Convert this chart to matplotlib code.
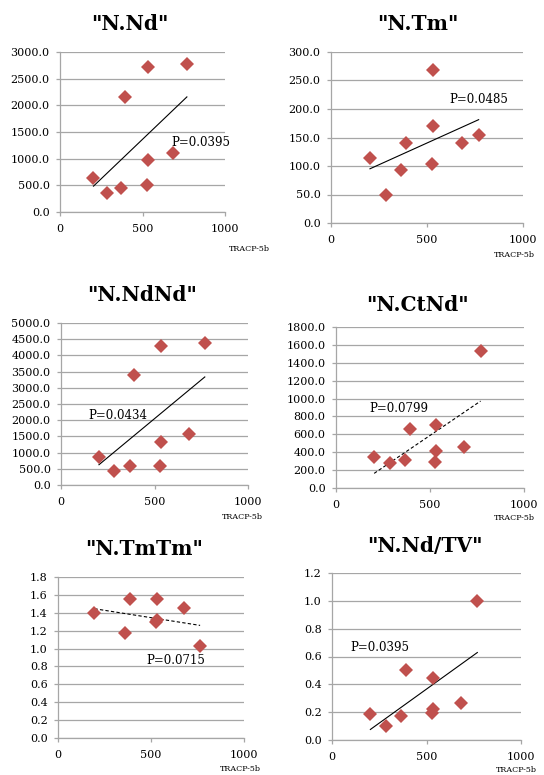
import matplotlib
matplotlib.use('Agg')
from matplotlib import pyplot as plt
import numpy as np

W, H = 544, 775

# TRACP-5b values (x), shared by all panels
tracp = [203, 286, 367, 392, 533, 533, 528, 683, 769]

n_nd = [642, 349, 443, 2164, 2719, 973, 499, 1098, 2769]
n_tm = [114.6, 48.5, 93, 139.8, 268.4, 169.6, 103.5, 140.4, 153.8]
n_ndnd = [851, 436, 571, 3402, 4305, 1338, 571, 1587, 4378]
n_ctnd = [345, 282, 308, 657, 701, 412, 293, 460, 1536]
tracp_tmtm = [196, 361, 387, 533, 533, 528, 679, 764]
n_tmtm = [1.40, 1.17, 1.55, 1.55, 1.32, 1.30, 1.45, 1.03]
n_nd_tv = [0.184, 0.103, 0.175, 0.500, 0.449, 0.222, 0.196, 0.263, 0.999]

titles = ['"N.Nd"', '"N.Tm"', '"N.NdNd"', '"N.CtNd"', '"N.TmTm"', '"N.Nd/TV"']
p_labels = ['P=0.0395', 'P=0.0485', 'P=0.0434', 'P=0.0799', 'P=0.0715', 'P=0.0395']

panels = [
    # x, y, ymax, ystep, dashed trend
    (tracp, n_nd, 3000, 500, False),
    (tracp, n_tm, 300, 50, False),
    (tracp, n_ndnd, 5000, 500, False),
    (tracp, n_ctnd, 1800, 200, True),
    (tracp_tmtm, n_tmtm, 1.8, 0.2, True),
    (tracp, n_nd_tv, 1.2, 0.2, False),
]

# pixel boxes: left, right, top, bottom
boxes = [(60, 225, 52, 212), (331, 523, 52, 223),
         (61, 248, 323, 485), (336, 524, 327, 488),
         (58, 244, 577, 738), (332, 521, 573, 740)]
title_pos = [(130, 24), (418, 24), (142, 295), (417, 305), (144, 549), (425, 546)]
xlab_pos = [(229, 249), (494, 255), (222, 517), (494, 518), (220, 769), (496, 770)]
p_pos = [(677, 1294), (615, 216), (144, 2160), (176, 894), (473, 0.872), (95, 0.668)]

plt.rcParams['font.family'] = ['DejaVu Serif']
fig = plt.figure(figsize=(W / 100, H / 100), dpi=100)
grid_c = '#a6a6a6'

for i, (xs, ys, ymax, ystep, dashed) in enumerate(panels):
    l, r, t, b = boxes[i]
    ax = fig.add_axes([l / W, 1 - b / H, (r - l) / W, (b - t) / H])
    ax.set_xlim(0, 1000)
    ax.set_ylim(0, ymax)
    ax.set_xticks([0, 500, 1000])
    yt = np.arange(0, ymax + ystep / 2, ystep)
    ax.set_yticks(yt)
    ax.set_yticklabels(['%.1f' % v for v in yt])
    ax.grid(axis='y', color=grid_c, linewidth=0.9)
    ax.set_axisbelow(True)
    for s in ['top', 'right']:
        ax.spines[s].set_visible(False)
    for s in ['left', 'bottom']:
        ax.spines[s].set_color(grid_c)
        ax.spines[s].set_linewidth(0.9)
    ax.tick_params(axis='y', length=3, width=0.9, color=grid_c, pad=4.5, labelsize=8)
    ax.tick_params(axis='x', length=3, width=0.9, color=grid_c, pad=5.5, labelsize=8)

    ax.plot(xs, ys, 'D', color='#c0504d', markersize=7.2, markeredgewidth=0, clip_on=False, zorder=3)

    # linear trendline, as in the spreadsheet
    k, c = np.polyfit(xs, ys, 1)
    tx = np.array([min(xs), max(xs)])
    ax.plot(tx, k * tx + c, color='black', linewidth=0.8,
            linestyle=(0, (3, 2)) if dashed else '-', zorder=2)

    ax.text(p_pos[i][0], p_pos[i][1], p_labels[i], fontsize=8.5, ha='left', va='center')

    fig.text(title_pos[i][0] / W, 1 - title_pos[i][1] / H, titles[i],
             fontsize=14.5, fontweight='bold', ha='center', va='center')
    fig.text(xlab_pos[i][0] / W, 1 - xlab_pos[i][1] / H, 'TRACP-5b',
             fontsize=5.8, ha='left', va='center')

fig.savefig('out.png', dpi=100)
